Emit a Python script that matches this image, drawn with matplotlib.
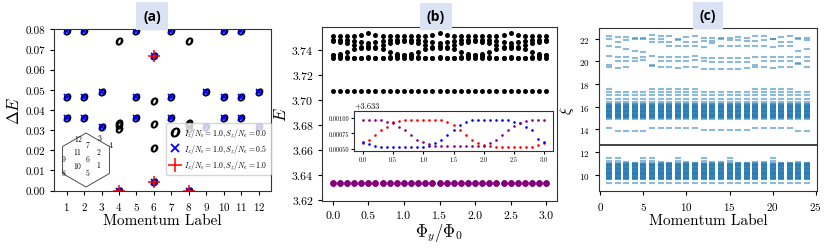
import numpy as np
import matplotlib
matplotlib.use("Agg")
import matplotlib.pyplot as plt
from matplotlib.patches import RegularPolygon

plt.rcParams['font.family'] = 'serif'
plt.rcParams['font.serif'] = ['cmr10']
plt.rcParams['mathtext.fontset'] = 'cm'
plt.rcParams['axes.formatter.use_mathtext'] = True
plt.rcParams['axes.unicode_minus'] = False

# ---------------- (a) energy gaps vs momentum label ----------------
mom_o = [1, 1, 1, 2, 2, 2, 3, 3, 4, 4, 4, 4, 4, 5, 5, 5, 6, 6, 6, 6, 6,
         7, 7, 7, 8, 8, 8, 8, 8, 9, 9, 10, 10, 10, 11, 11, 11, 12, 12]
dE_o = [0.079, 0.0464, 0.0361, 0.079, 0.0464, 0.0361, 0.0489, 0.0316,
        0.0741, 0.0337, 0.0324, 0.0307, 0.0, 0.079, 0.0464, 0.0361,
        0.0668, 0.0446, 0.0331, 0.0212, 0.0045, 0.079, 0.0464, 0.0361,
        0.0741, 0.0337, 0.0324, 0.0307, 0.0, 0.0489, 0.0316,
        0.079, 0.0464, 0.0361, 0.079, 0.0464, 0.0361, 0.0489, 0.0316]
mom_x = [1, 1, 1, 2, 2, 2, 3, 3, 4, 5, 5, 5, 6, 6, 7, 7, 7, 8, 9, 9,
         10, 10, 10, 11, 11, 11, 12, 12]
dE_x = [0.079, 0.0464, 0.0361, 0.079, 0.0464, 0.0361, 0.0489, 0.0316,
        0.0, 0.079, 0.0464, 0.0361, 0.0668, 0.0045, 0.079, 0.0464, 0.0361,
        0.0, 0.0489, 0.0316, 0.079, 0.0464, 0.0361, 0.079, 0.0464, 0.0361,
        0.0489, 0.0316]
mom_p = [4, 6, 6, 8]
dE_p = [0.0, 0.0668, 0.0045, 0.0]
labels_a = [r'$I_z/N_e=1.0, S_z/N_e=0.0$',
            r'$I_z/N_e=1.0, S_z/N_e=0.5$',
            r'$I_z/N_e=1.0, S_z/N_e=1.0$']

# momentum points inside the hexagonal zone (units of hexagon radius)
hex_labels = ['1', '2', '3', '4', '5', '6', '7', '8', '9', '10', '11', '12']
hex_x = [0.48, 0.48, 0.52, 0.93, 0.07, 0.07, 0.07, -0.81, -0.81, -0.30, -0.30, -0.26]
hex_y = [-0.15, 0.33, 0.85, 0.59, -0.44, 0.07, 0.59, -0.44, 0.07, -0.19, 0.33, 0.81]

# ---------------- (b) spectrum vs flux ----------------
phi = np.linspace(0, 3, 31)
E_1 = [3.7516, 3.7516, 3.7516, 3.7516, 3.7520, 3.7537, 3.7520, 3.7516, 3.7516, 3.7516,
       3.7516, 3.7516, 3.7516, 3.7516, 3.7520, 3.7537, 3.7520, 3.7516, 3.7516, 3.7516,
       3.7516, 3.7516, 3.7516, 3.7516, 3.7520, 3.7537, 3.7520, 3.7516, 3.7516, 3.7516,
       3.7516]
E_2 = [3.7478, 3.7478, 3.7478, 3.7474, 3.7466, 3.7460, 3.7466, 3.7474, 3.7478, 3.7478,
       3.7478, 3.7478, 3.7478, 3.7474, 3.7466, 3.7460, 3.7466, 3.7474, 3.7478, 3.7478,
       3.7478, 3.7478, 3.7478, 3.7474, 3.7466, 3.7460, 3.7466, 3.7474, 3.7478, 3.7478,
       3.7478]
E_3 = [3.7470, 3.7468, 3.7460, 3.7440, 3.7425, 3.7430, 3.7425, 3.7440, 3.7460, 3.7468,
       3.7470, 3.7468, 3.7460, 3.7440, 3.7425, 3.7430, 3.7425, 3.7440, 3.7460, 3.7468,
       3.7470, 3.7468, 3.7460, 3.7440, 3.7425, 3.7430, 3.7425, 3.7440, 3.7460, 3.7468,
       3.7470]
E_4 = [3.7363, 3.7372, 3.7388, 3.7410, 3.7420, 3.7415, 3.7420, 3.7410, 3.7388, 3.7372,
       3.7363, 3.7372, 3.7388, 3.7410, 3.7420, 3.7415, 3.7420, 3.7410, 3.7388, 3.7372,
       3.7363, 3.7372, 3.7388, 3.7410, 3.7420, 3.7415, 3.7420, 3.7410, 3.7388, 3.7372,
       3.7363]
E_5 = [3.7360, 3.7355, 3.7345, 3.7338, 3.7336, 3.7345, 3.7336, 3.7338, 3.7345, 3.7355,
       3.7360, 3.7355, 3.7345, 3.7338, 3.7336, 3.7345, 3.7336, 3.7338, 3.7345, 3.7355,
       3.7360, 3.7355, 3.7345, 3.7338, 3.7336, 3.7345, 3.7336, 3.7338, 3.7345, 3.7355,
       3.7360]
E_6 = [3.7336, 3.7336, 3.7336, 3.7336, 3.7336, 3.7340, 3.7336, 3.7336, 3.7336, 3.7336,
       3.7336, 3.7336, 3.7336, 3.7336, 3.7336, 3.7340, 3.7336, 3.7336, 3.7336, 3.7336,
       3.7336, 3.7336, 3.7336, 3.7336, 3.7336, 3.7340, 3.7336, 3.7336, 3.7336, 3.7336,
       3.7336]
E_mid = [3.7073] * 31
E_offset = 3.633
dE_red = [0.00060, 0.00065, 0.00072, 0.00080, 0.00086, 0.00093, 0.00095, 0.00097, 0.00097, 0.00097,
          0.00097, 0.00097, 0.00097, 0.00097, 0.00094, 0.00088, 0.00080, 0.00073, 0.00065, 0.00059,
          0.00056, 0.00054, 0.00053, 0.00053, 0.00053, 0.00053, 0.00053, 0.00053, 0.00053, 0.00056,
          0.00060]
dE_blue = [0.00061, 0.00057, 0.00054, 0.00053, 0.00053, 0.00053, 0.00053, 0.00053, 0.00053, 0.00053,
           0.00053, 0.00055, 0.00059, 0.00065, 0.00073, 0.00080, 0.00088, 0.00093, 0.00096, 0.00097,
           0.00097, 0.00097, 0.00097, 0.00097, 0.00097, 0.00094, 0.00091, 0.00086, 0.00080, 0.00066,
           0.00061]
dE_purple = [0.00097, 0.00097, 0.00097, 0.00096, 0.00093, 0.00091, 0.00086, 0.00080, 0.00072, 0.00065,
             0.00061, 0.00057, 0.00054, 0.00054, 0.00054, 0.00054, 0.00054, 0.00054, 0.00054, 0.00054,
             0.00055, 0.00059, 0.00065, 0.00072, 0.00080, 0.00087, 0.00092, 0.00095, 0.00096, 0.00097,
             0.00097]

# ---------------- (c) entanglement spectrum ----------------
k_c = list(range(1, 25))
xi_low_dense = [9.58, 9.63, 9.68, 9.73, 9.78, 9.83, 9.88, 9.93, 9.98, 10.03, 10.08,
                10.13, 10.18, 10.23, 10.28, 10.33, 10.38, 10.43, 10.48, 10.53, 10.58,
                10.63, 10.68, 10.73, 10.78, 10.83, 10.88, 10.93, 10.98, 11.02]
xi_mid_dense = [14.95, 15.0, 15.05, 15.1, 15.15, 15.2, 15.25, 15.3, 15.35, 15.4,
                15.45, 15.5, 15.55, 15.6, 15.65, 15.7, 15.75, 15.8, 15.85, 15.9,
                15.95, 16.0, 16.05, 16.1, 16.16, 16.22, 16.28]
xi_low_extra = [[9.3, 11.2, 11.45], [9.3, 11.2, 11.45], [9.3, 11.15], [9.3, 11.05],
                [9.3, 11.2, 11.45], [9.3, 11.2, 11.45], [9.3, 11.1], [9.3, 11.05],
                [9.3, 11.2, 11.45], [9.3, 11.15], [9.3, 11.05], [9.3, 11.2, 11.45],
                [9.3, 11.1], [9.3, 11.1], [9.3, 11.2, 11.45], [9.3, 11.05],
                [9.3, 11.05], [9.3, 11.15], [9.3, 11.1], [9.3, 11.2, 11.45],
                [9.3, 11.05], [9.3, 11.05], [9.3, 11.1], [9.3, 11.05]]
xi_mid_extra = [[14.15, 16.45, 16.7, 17.06, 17.3, 17.56], [13.9, 16.45, 16.7, 17.06, 17.3],
                [13.9, 16.45, 16.7, 17.06, 17.3], [13.9, 16.45, 16.7, 17.06, 17.3],
                [13.9, 16.45, 16.7, 17.06, 17.3], [14.15, 16.45, 16.7, 17.06, 17.3, 17.56],
                [14.15, 16.45, 16.7, 17.06, 17.3, 17.56], [14.15, 16.45, 16.7, 17.06, 17.3, 17.56],
                [14.15, 16.45, 16.7, 17.06, 17.3, 17.56], [14.15, 16.45, 16.7, 17.06, 17.3, 17.56],
                [14.15, 16.45, 16.7, 17.06, 17.3, 17.56], [13.95, 16.45, 16.7, 17.06, 17.3],
                [13.95, 16.45, 16.7, 17.06, 17.3], [13.95, 16.45, 16.7, 17.06, 17.3],
                [13.95, 16.45, 16.7, 17.06, 17.3], [13.95, 16.45, 16.7, 17.06, 17.3],
                [13.95, 16.45, 16.7, 17.06, 17.3], [14.15, 16.45, 16.7, 17.06, 17.3, 17.56],
                [14.15, 16.45, 16.7, 17.06, 17.3, 17.56], [14.15, 16.45, 16.7, 17.06, 17.3, 17.56],
                [14.15, 16.45, 16.7, 17.06, 17.3, 17.56], [14.15, 16.45, 16.7, 17.06, 17.3, 17.56],
                [13.9, 16.45, 16.7, 17.06, 17.3], [13.9, 16.45, 16.7, 17.06, 17.3]]
xi_high = [[19.55, 19.65, 20.45, 21.4, 21.95, 22.27], [19.4, 20.0, 20.35, 21.27, 21.71, 22.15],
           [19.55, 20.0, 20.4, 21.1, 21.85, 22.15], [20.0, 20.3, 20.95, 21.95, 22.05],
           [20.1, 20.35, 20.85, 21.95, 22.05], [19.6, 19.7, 20.45, 21.7, 22.0, 22.3],
           [19.55, 20.05, 20.4, 21.7, 22.0, 22.2], [19.5, 20.05, 20.35, 21.35, 21.75, 22.2],
           [19.45, 20.05, 20.35, 21.35, 21.85, 22.0], [19.55, 20.05, 20.4, 21.35, 21.75, 22.15],
           [19.55, 20.1, 20.45, 21.35, 21.75, 22.25], [19.35, 20.05, 20.3, 21.3, 21.8, 22.1],
           [19.35, 19.95, 20.3, 21.6, 21.8, 22.1], [19.3, 19.95, 20.3, 21.35, 21.95, 22.05],
           [19.3, 19.95, 20.3, 21.35, 21.85, 22.1], [19.3, 19.95, 20.3, 21.35, 21.85, 22.15],
           [19.4, 19.95, 20.3, 21.4, 21.8, 22.1], [19.55, 19.65, 20.4, 21.4, 21.8, 22.25],
           [19.5, 20.0, 20.35, 21.35, 21.85, 22.2], [19.45, 20.0, 20.4, 21.3, 21.95, 22.0],
           [19.5, 20.0, 20.35, 21.35, 21.75, 22.15], [19.55, 20.05, 20.4, 21.35, 21.75, 22.25],
           [19.75, 19.85, 20.35, 20.9, 22.0, 22.1], [19.55, 20.05, 20.4, 21.1, 21.85, 22.1]]
xi_cut = 12.6

W, H = 830, 251
fig = plt.figure(figsize=(8.3, 2.51), dpi=100)


def px_axes(x0, y0, x1, y1):
    # pixel box (top-left origin) -> figure fraction
    return [x0 / W, 1 - y1 / H, (x1 - x0) / W, (y1 - y0) / H]


# ---- panel (a)
ax1 = fig.add_axes(px_axes(54, 30, 271, 192))
ax1.plot(mom_o, dE_o, ls='none', marker='$o$', color='k', ms=4.8, label=labels_a[0])
ax1.plot(mom_x, dE_x, ls='none', marker='x', color='blue', ms=4.5, mew=1.3, label=labels_a[1])
ax1.plot(mom_p, dE_p, ls='none', marker='+', color='red', ms=8, mew=1.1, label=labels_a[2])
ax1.set_xlim(0.28, 12.7)
ax1.set_ylim(-0.0002, 0.0802)
ax1.set_xticks(range(1, 13))
ax1.set_yticks([0.0, 0.01, 0.02, 0.03, 0.04, 0.05, 0.06, 0.07, 0.08])
ax1.set_yticklabels(['%.2f' % v for v in [0.0, 0.01, 0.02, 0.03, 0.04, 0.05, 0.06, 0.07, 0.08]])
ax1.tick_params(labelsize=8, length=3)
ax1.set_xlabel('Momentum Label', fontsize=11, labelpad=1)
ax1.set_ylabel(r'$\Delta E$', fontsize=12, labelpad=2)
ax1.legend(loc='lower right', bbox_to_anchor=(1.0, 0.1), fontsize=5.6, markerscale=1.3,
           handlelength=1.3, handletextpad=0.6, borderpad=0.45, labelspacing=0.4,
           borderaxespad=0.0)

axh = fig.add_axes(px_axes(56, 131, 116, 191))
axh.set_xlim(-1.111, 1.111)
axh.set_ylim(-1.111, 1.111)
axh.axis('off')
axh.add_patch(RegularPolygon((0, 0), 6, radius=1.0, fill=False, ec='#333333', lw=0.6))
for lab, hx, hy in zip(hex_labels, hex_x, hex_y):
    axh.text(hx, hy, r'$\mathit{%s}$' % lab, fontsize=5.5, ha='center', va='center')

# ---- panel (b)
ax2 = fig.add_axes(px_axes(322, 28, 557, 202))
for lev in [E_1, E_2, E_3, E_4, E_5, E_6, E_mid]:
    ax2.plot(phi, lev, 'o', color='k', ms=3.6, mew=0)
ax2.plot(phi, E_offset + np.array(dE_blue), 'o', color='blue', ms=4.6, mew=0, alpha=0.8)
ax2.plot(phi, E_offset + np.array(dE_red), 'o', color='red', ms=4.6, mew=0, alpha=0.8)
ax2.plot(phi, E_offset + np.array(dE_purple), 'o', color='purple', ms=4.6, mew=0)
ax2.set_xlim(-0.15, 3.15)
ax2.set_ylim(3.6195, 3.7585)
ax2.set_xticks([0.0, 0.5, 1.0, 1.5, 2.0, 2.5, 3.0])
ax2.set_xticklabels(['0.0', '0.5', '1.0', '1.5', '2.0', '2.5', '3.0'])
ax2.set_yticks([3.62, 3.64, 3.66, 3.68, 3.70, 3.72, 3.74])
ax2.set_yticklabels(['3.62', '3.64', '3.66', '3.68', '3.70', '3.72', '3.74'])
ax2.tick_params(labelsize=8.5, length=3)
ax2.set_xlabel(r'$\Phi_y/\Phi_0$', fontsize=12, labelpad=1)
ax2.set_ylabel(r'$E$', fontsize=12, labelpad=2)

ax_in = fig.add_axes(px_axes(354, 112, 553, 152))
ax_in.plot(phi, dE_red, 'o', color='red', ms=1.9, mew=0)
ax_in.plot(phi, dE_blue, 'o', color='blue', ms=1.9, mew=0)
ax_in.plot(phi, dE_purple, 'o', color='purple', ms=1.9, mew=0)
ax_in.set_xlim(-0.15, 3.15)
ax_in.set_ylim(0.000465, 0.00111)
ax_in.set_xticks([0.0, 0.5, 1.0, 1.5, 2.0, 2.5, 3.0])
ax_in.set_xticklabels(['0.0', '0.5', '1.0', '1.5', '2.0', '2.5', '3.0'])
ax_in.set_yticks([0.0005, 0.00075, 0.001])
ax_in.set_yticklabels(['0.00050', '0.00075', '0.00100'])
ax_in.tick_params(labelsize=4.5, length=2, pad=1.5)
ax_in.text(0.0, 1.03, '+3.633', transform=ax_in.transAxes, fontsize=6, va='bottom', ha='left')

# ---- panel (c)
ax3 = fig.add_axes(px_axes(599, 29, 817, 192))
for i, k in enumerate(k_c):
    lev = xi_low_dense + xi_low_extra[i] + xi_mid_dense + xi_mid_extra[i] + xi_high[i]
    ax3.plot([k] * len(lev), lev, '_', color='#1f77b4', ms=5, mew=1.5, alpha=0.5)
ax3.axhline(xi_cut, color='#222222', lw=1.2)
ax3.set_xlim(-0.15, 25.15)
ax3.set_ylim(8.56, 22.95)
ax3.set_xticks([0, 5, 10, 15, 20, 25])
ax3.set_yticks([10, 12, 14, 16, 18, 20, 22])
ax3.tick_params(axis='x', labelsize=8, length=3)
ax3.tick_params(axis='y', labelsize=6.5, length=3)
ax3.set_xlabel('Momentum Label', fontsize=11, labelpad=1)
ax3.set_ylabel(r'$\xi$', fontsize=11, labelpad=2)

for ax in [ax1, ax2, ax3, ax_in]:
    for sp in ax.spines.values():
        sp.set_color('#333333')

# panel titles with shaded boxes
for lab, cx, cy in [('(a)', 152, 17), ('(b)', 436, 17.5), ('(c)', 708, 16.5)]:
    fig.text(cx / W, 1 - cy / H, lab, family='Open Sans', weight='bold', fontsize=10,
             ha='center', va='center',
             bbox=dict(boxstyle='square,pad=0.5', fc='#dae3f3', ec='none'))

fig.savefig('out.png', dpi=100)
